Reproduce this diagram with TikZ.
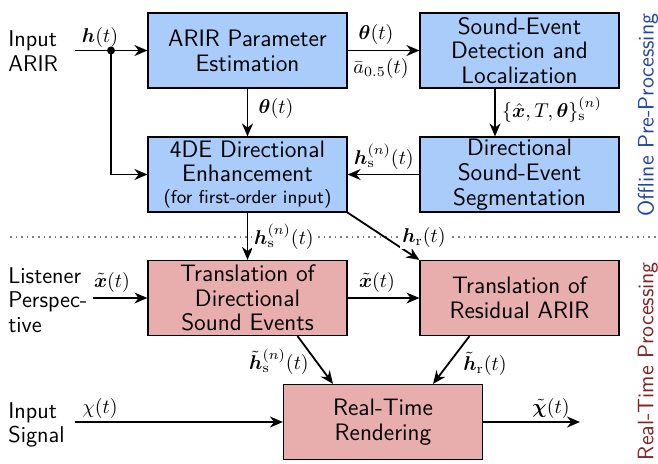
\documentclass[tikz,border=0pt]{standalone}
\usepackage{amsmath,bm}
\usetikzlibrary{arrows.meta}
\definecolor{boxblue}{RGB}{170,204,250}
\definecolor{boxred}{RGB}{232,174,174}
\definecolor{sideblue}{RGB}{35,70,165}
\definecolor{sidered}{RGB}{130,35,35}
\begin{document}
\begin{tikzpicture}[x=0.5pt,y=-0.5pt, font=\sffamily,
  blk/.style={draw, line width=0.6pt, minimum width=99.5pt, minimum height=37.5pt, align=center, inner sep=1pt, font=\sffamily\fontsize{11.9}{12.4}\selectfont},
  bluebox/.style={blk, fill=boxblue},
  redbox/.style={blk, fill=boxred},
  arr/.style={-{Stealth[length=6.5pt,width=5.5pt]}, line width=0.9pt},
  lbl/.style={inner sep=1pt},
  side/.style={rotate=90, inner sep=0pt, font=\sffamily\fontsize{11.2}{12}\selectfont},
  outer/.style={align=left, inner sep=0pt, anchor=west, font=\sffamily\fontsize{11.4}{12.3}\selectfont},
  ]
\useasboundingbox (0,0) rectangle (658,463);

% separator
\coordinate (sepL) at (10,237);
\coordinate (sepR) at (658,237);
\draw[dotted, gray, line width=0.8pt] (sepL) -- (sepR);

% boxes
\node[bluebox] (est) at (247.5,50.5) {ARIR Parameter\\Estimation};
\node[bluebox] (sed) at (519.5,50.5) {Sound-Event\\Detection and\\Localization};
\node[bluebox] (enh) at (247.5,174.5) {4DE Directional\\Enhancement\\[-1.5pt]{\fontsize{9.3}{11}\selectfont (for first-order input)}};
\node[bluebox] (seg) at (519.5,174.5) {Directional\\Sound-Event\\Segmentation};
\node[redbox] (tdir) at (247.5,298) {Translation of\\Directional\\Sound Events};
\node[redbox] (tres) at (519.5,298) {Translation of\\Residual ARIR};
\node[redbox] (rend) at (383,422) {Real-Time\\Rendering};

% outer texts
\node[outer] (inarir) at (8,51) {Input\\ARIR};
\node[outer] (listen) at (8,300) {Listener\\Perspec-\\tive};
\node[outer] (insig) at (8,425) {Input\\Signal};
\node[side, text=sideblue] (off) at (648,115) {Offline Pre-Processing};
\node[side, text=sidered] (rt) at (648,361) {Real-Time Processing};

% free ends
\coordinate (hin) at (75,50.5);
\coordinate (j) at (111,50.5);
\coordinate (xin) at (93,298);
\coordinate (chiin) at (75,422);
\coordinate (out) at (580,422);

% connectors
\draw[arr] (hin) -- (est.west);
\fill (j) circle (2pt);
\draw[arr] (j) |- (enh.west);
\draw[arr] (est.east) -- (sed.west);
\draw[arr] (est.south) -- (enh.north);
\draw[arr] ([xshift=-12.25pt]sed.south) -- ([xshift=-12.25pt]seg.north);
\draw[arr] (seg.west) -- (enh.east);
\draw[arr] (enh.south) -- (tdir.north);
\draw[arr] (enh.south east) -- (tres.north west);
\draw[arr] (xin) -- (tdir.west);
\draw[arr] (tdir.east) -- (tres.west);
\draw[arr] ([xshift=25pt]tdir.south) -- ([xshift=-25pt]rend.north);
\draw[arr] ([xshift=-25pt]tres.south) -- ([xshift=25pt]rend.north);
\draw[arr] (chiin) -- (rend.west);
\draw[arr] (rend.east) -- (out);

% labels
\node[lbl] (l1) at (100,37) {$\boldsymbol{h}(t)$};
\node[lbl] (l2) at (376,34) {$\boldsymbol{\theta}(t)$};
\node[lbl] (l3) at (381,68) {$\bar{a}_{0.5}(t)$};
\node[lbl] (l4) at (276,108) {$\boldsymbol{\theta}(t)$};
\node[lbl] (l5) at (552,110) {$\{\hat{\boldsymbol{x}},T,\boldsymbol{\theta}\}_\mathrm{s}^{(n)}$};
\node[lbl] (l6) at (384,157) {$\boldsymbol{h}_\mathrm{s}^{(n)}(t)$};
\node[lbl, fill=white] (l7) at (284,237) {$\boldsymbol{h}_\mathrm{s}^{(n)}(t)$};
\node[lbl, fill=white] (l8) at (424,237) {$\boldsymbol{h}_\mathrm{r}(t)$};
\node[lbl] (l9) at (112,282) {$\tilde{\boldsymbol{x}}(t)$};
\node[lbl] (l10) at (377,282) {$\tilde{\boldsymbol{x}}(t)$};
\node[lbl] (l11) at (279,362) {$\tilde{\boldsymbol{h}}_\mathrm{s}^{(n)}(t)$};
\node[lbl] (l12) at (485,364) {$\tilde{\boldsymbol{h}}_\mathrm{r}(t)$};
\node[lbl] (l13) at (100,408) {$\chi(t)$};
\node[lbl] (l14) at (551,408) {$\tilde{\boldsymbol{\chi}}(t)$};
\end{tikzpicture}
\end{document}
